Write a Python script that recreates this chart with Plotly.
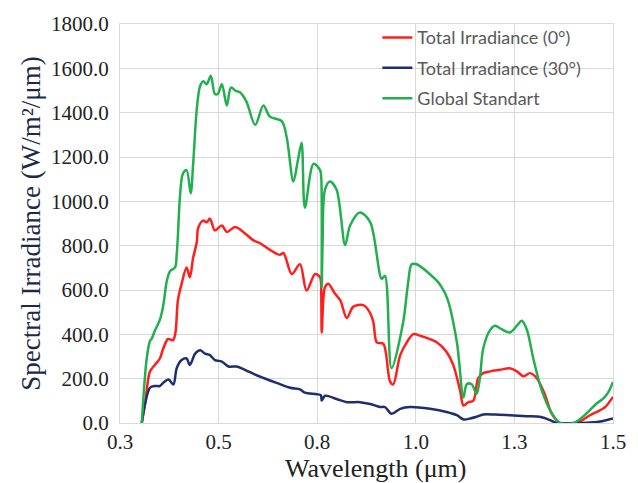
import plotly.graph_objects as go

# ---------------- data ----------------
green_x = [0.353, 0.365, 0.373, 0.377, 0.385, 0.397, 0.405, 0.414, 0.422, 0.434, 0.438, 0.441,
           0.446, 0.453, 0.462, 0.472, 0.478, 0.487, 0.495, 0.503, 0.511, 0.521, 0.531, 0.538,
           0.548, 0.560, 0.570, 0.582, 0.592, 0.608, 0.629, 0.649, 0.665, 0.694, 0.706, 0.722,
           0.733, 0.742, 0.750, 0.771, 0.787, 0.790, 0.791, 0.793, 0.799, 0.811, 0.827, 0.848,
           0.860, 0.884, 0.909, 0.937, 0.945, 0.961, 0.989, 1.001, 1.010, 1.022, 1.071, 1.083,
           1.097, 1.120, 1.136, 1.144, 1.156, 1.168, 1.176, 1.184, 1.201, 1.213, 1.229, 1.249,
           1.266, 1.278, 1.290, 1.306, 1.327, 1.351, 1.371, 1.404, 1.436, 1.460, 1.476, 1.488, 1.500]
green_y = [0, 291, 370, 380, 417, 465, 527, 642, 686, 702, 760, 847,
           1023, 1124, 1141, 1037, 1168, 1418, 1520, 1542, 1528, 1567, 1484, 1484,
           1528, 1432, 1513, 1498, 1492, 1449, 1345, 1432, 1382, 1361, 1286, 1089,
           1185, 1264, 971, 1169, 1141, 1100, 613, 800, 1053, 1089, 1053, 803,
           891, 950, 906, 650, 664, 247, 452, 628, 716, 716, 642, 613,
           560, 364, 115, 175, 175, 132, 203, 335, 420, 439, 423, 408,
           439, 461, 423, 291, 145, 44, 0, 0, 44, 88, 110, 137, 185]

red_x = [0.353, 0.362, 0.369, 0.373, 0.385, 0.397, 0.405, 0.417, 0.429, 0.435, 0.441, 0.450,
         0.462, 0.470, 0.478, 0.487, 0.490, 0.502, 0.511, 0.519, 0.531, 0.548, 0.560, 0.580,
         0.600, 0.624, 0.641, 0.665, 0.689, 0.698, 0.718, 0.738, 0.754, 0.775, 0.787, 0.789,
         0.791, 0.795, 0.799, 0.807, 0.823, 0.836, 0.852, 0.868, 0.892, 0.909, 0.917, 0.925,
         0.941, 0.957, 0.965, 0.982, 0.998, 1.014, 1.030, 1.071, 1.095, 1.111, 1.128, 1.136,
         1.148, 1.160, 1.172, 1.184, 1.201, 1.225, 1.249, 1.266, 1.282, 1.298, 1.314, 1.334,
         1.351, 1.371, 1.412, 1.444, 1.468, 1.481, 1.500]
red_y = [0, 100, 203, 233, 263, 291, 335, 379, 373, 408, 555, 628,
         702, 658, 745, 818, 878, 913, 906, 922, 869, 891, 862, 884,
         862, 825, 811, 781, 759, 767, 672, 716, 598, 672, 657, 640,
         408, 560, 613, 628, 584, 554, 474, 525, 532, 496, 452, 364,
         357, 189, 174, 306, 364, 401, 394, 364, 320, 262, 145, 79,
         94, 101, 203, 225, 233, 240, 247, 233, 211, 225, 203, 130,
         42, 0, 0, 35, 57, 72, 118]

navy_x = [0.353, 0.361, 0.373, 0.385, 0.397, 0.405, 0.418, 0.430, 0.438, 0.450, 0.462, 0.470,
          0.483, 0.495, 0.507, 0.519, 0.531, 0.548, 0.564, 0.584, 0.604, 0.629, 0.649, 0.681,
          0.714, 0.738, 0.750, 0.779, 0.789, 0.791, 0.799, 0.827, 0.852, 0.884, 0.909, 0.933,
          0.945, 0.961, 0.982, 1.006, 1.055, 1.095, 1.120, 1.136, 1.152, 1.168, 1.184, 1.213,
          1.249, 1.290, 1.322, 1.347, 1.363, 1.404, 1.444, 1.476, 1.500]
navy_y = [0, 86, 159, 167, 167, 181, 196, 174, 247, 284, 291, 262,
          313, 328, 313, 306, 284, 277, 255, 255, 240, 218, 203, 181,
          159, 152, 137, 130, 125, 101, 123, 108, 94, 94, 86, 72,
          72, 42, 64, 72, 64, 50, 35, 16, 20, 28, 38, 38,
          35, 31, 28, 13, 0, 0, 2, 9, 20]

x_tick_vals = [0.3, 0.54, 0.78, 1.02, 1.26, 1.5]
x_tick_text = ["0.3", "0.5", "0.8", "1.0", "1.3", "1.5"]

series_names = ["Total Irradiance (0°)", "Total Irradiance (30°)", "Global Standart"]

# ---------------- figure ----------------
fig = go.Figure()
serif = "Liberation Serif"
grid = "#d9d9d9"

traces = [
    (red_x, red_y, "#ff1f1f"),
    (navy_x, navy_y, "#1f2f6e"),
    (green_x, green_y, "#22b04f"),
]
for i, (xs, ys, col) in enumerate(traces):
    fig.add_trace(go.Scatter(
        x=xs, y=ys, mode="lines", name=series_names[i],
        legendgroup=f"g{i}",
        line=dict(color=col, width=2.5, shape="spline", smoothing=0.9),
    ))

fig.update_layout(
    width=638, height=483,
    margin=dict(l=120, r=25, t=13, b=60),
    paper_bgcolor="white", plot_bgcolor="white",
    legend=dict(
        x=0.522, y=1.012, xanchor="left", yanchor="top",
        font=dict(family="Lato", size=18, color="#595959"),
        bgcolor="rgba(0,0,0,0)", tracegroupgap=4, traceorder="grouped",
    ),
    showlegend=True,
    annotations=[dict(
        text="Wavelength (μm)", xref="paper", yref="paper", x=0.519, y=-0.113,
        xanchor="center", yanchor="middle", showarrow=False,
        font=dict(family=serif, size=26, color="#222222"),
    )],
)
fig.update_xaxes(
    range=[0.3, 1.5], tickvals=x_tick_vals, ticktext=x_tick_text,
    showgrid=True, gridcolor=grid, gridwidth=1.3,
    showline=True, linecolor=grid, linewidth=1.3, mirror=True,
    zeroline=False, ticks="",
    tickfont=dict(family=serif, size=21, color="#222222"),
)
fig.update_yaxes(
    range=[0, 1800], dtick=200, tickformat=".1f",
    showgrid=True, gridcolor=grid, gridwidth=1.3,
    showline=True, linecolor=grid, linewidth=1.3, mirror=True,
    zeroline=False, ticks="", ticklabelstandoff=6,
    tickfont=dict(family=serif, size=21, color="#222222"),
    title=dict(text="Spectral Irradiance (W/m²/μm)", font=dict(family=serif, size=27, color="#1c2a4a"), standoff=2),
)

fig.write_html("out.html")
